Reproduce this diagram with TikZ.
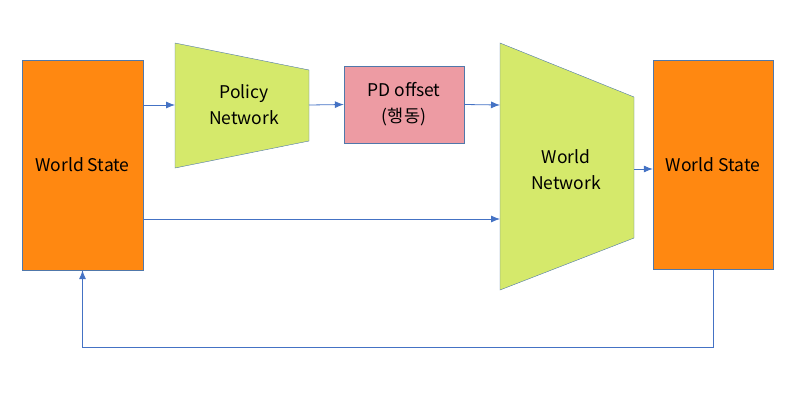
\documentclass[tikz,border=0pt]{standalone}
\usepackage{fontspec}
\setmainfont{Noto Sans CJK KR}
\usetikzlibrary{arrows.meta,positioning}

\definecolor{wsorange}{RGB}{255,136,17}
\definecolor{netgreen}{RGB}{213,233,107}
\definecolor{pdpink}{RGB}{237,155,163}
\definecolor{edgeblue}{RGB}{68,114,196}
\definecolor{outline}{RGB}{80,120,170}

\tikzset{
  wsbox/.style={draw=outline,fill=wsorange,minimum width=121pt,minimum height=210pt,inner sep=0pt},
  pdbox/.style={draw=outline,fill=pdpink,minimum width=120pt,minimum height=77pt,inner sep=0pt,align=center},
  netshape/.style={draw=outline,fill=netgreen},
  flow/.style={draw=edgeblue,line width=0.8pt,-{Latex[length=9pt,width=7pt]}}
}

\begin{document}
\begin{tikzpicture}[x=1pt,y=-1pt,font=\fontsize{17.5}{26}\selectfont]
\useasboundingbox (0,0) rectangle (797,400);

% boxes
\node[wsbox] (wsL) at (82.5,165) {World State};
\node[wsbox,minimum width=120pt,minimum height=209pt] (wsR) at (713,164.5) {World State};
\node[pdbox] (pd) at (404,104.5) {PD offset\\(행동)};

% networks
\draw[netshape] (175,43) -- (309,70) -- (309,141) -- (175,168) -- cycle;
\node[align=center] (pn) at (244,105) {Policy\\Network};
\draw[netshape] (500,43) -- (634,97) -- (634,238) -- (500,290) -- cycle;
\node[align=center] (wn) at (566,170) {World\\Network};

\coordinate (pnIn) at (175,105);
\coordinate (pnOut) at (309,105);
\coordinate (wnIn) at (500,105);
\coordinate (wnLow) at (500,219);
\coordinate (wnOut) at (634,169);

% connectors
\draw[flow] (wsL.east |- pnIn) -- (pnIn);
\draw[flow] (pnOut) -- (pd.west);
\draw[flow] (pd.east) -- (wnIn);
\draw[flow] (wsL.east |- wnLow) -- (wnLow);
\draw[flow] (wnOut) -- (wsR.west |- wnOut);
\draw[flow] (wsR.south) -- ++(0,78) -| (wsL.south);
\end{tikzpicture}
\end{document}
